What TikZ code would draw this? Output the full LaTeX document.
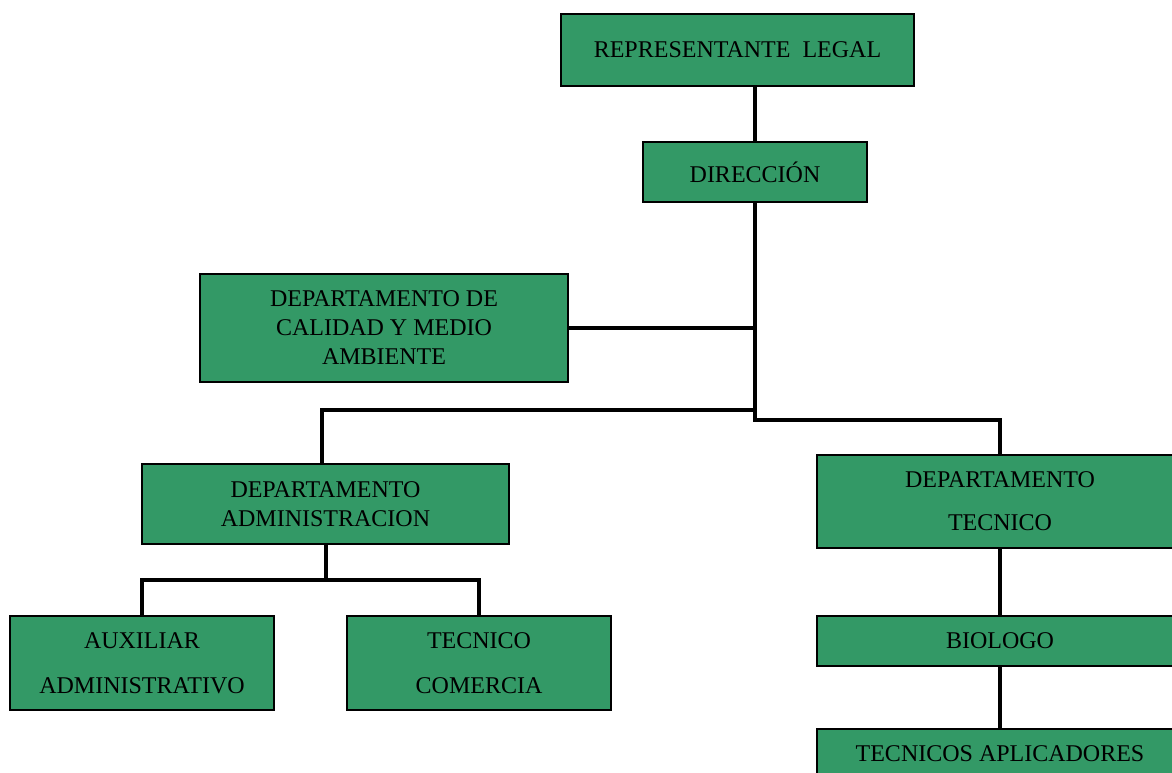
\documentclass[tikz,border=0pt]{standalone}
\usepackage{fontspec}
\setmainfont{Liberation Serif}
\usepackage{xcolor}
\usepackage{tikz}
\usetikzlibrary{positioning,calc}
\definecolor{verdeorg}{HTML}{339966}

\begin{document}
\begin{tikzpicture}[x=1pt,y=-1pt,
    cargo/.style={draw=black,line width=2pt,fill=verdeorg,inner sep=0pt,
        align=center,font=\fontsize{24}{29}\selectfont},
    enlace/.style={line width=4pt,black}]
    \useasboundingbox (0,0) rectangle (1172,772);

    % Direccion general
    \node[cargo,minimum width=353,minimum height=72] (rep) at (737.5,50) {REPRESENTANTE\ \ LEGAL};
    \node[cargo,minimum width=224,minimum height=60] (dir) at (755,172) {DIRECCIÓN};

    % Calidad
    \node[cargo,minimum width=368,minimum height=108] (cal) at (384,328) {DEPARTAMENTO DE\\CALIDAD Y MEDIO\\AMBIENTE};

    % Departamentos
    \node[cargo,minimum width=367,minimum height=80] (adm) at (325.5,504) {DEPARTAMENTO\\ADMINISTRACION};
    \node[cargo,minimum width=366,minimum height=93] (tec) at (1000,501.5) {DEPARTAMENTO\\[14pt]TECNICO};

    % Administracion
    \node[cargo,minimum width=264,minimum height=94] (aux) at (142,663) {AUXILIAR\\[16pt]ADMINISTRATIVO};
    \node[cargo,minimum width=264,minimum height=94] (com) at (479,663) {TECNICO\\[16pt]COMERCIA};

    % Tecnico
    \node[cargo,minimum width=366,minimum height=50] (bio) at (1000,641) {BIOLOGO};
    \node[cargo,minimum width=366,minimum height=50] (apl) at (1000,754) {TECNICOS APLICADORES};

    % Lineas
    \coordinate (ramaIzq) at (755,410);
    \coordinate (ramaDer) at (755,420);
    \coordinate (admBar) at (325.5,580);
    \draw[enlace] (rep.south -| dir.north) -- (dir.north);
    \draw[enlace] (dir.south) -- (ramaDer) -| (tec.north);
    \draw[enlace] (cal.east) -- (cal.east -| dir.south);
    \draw[enlace] (ramaIzq) -| ([xshift=-4pt]adm.north);
    \draw[enlace] (adm.south) -- (admBar);
    \draw[enlace] (aux.north) |- (admBar) -| (com.north);
    \draw[enlace] (tec.south) -- (bio.north);
    \draw[enlace] (bio.south) -- (apl.north);
\end{tikzpicture}
\end{document}
